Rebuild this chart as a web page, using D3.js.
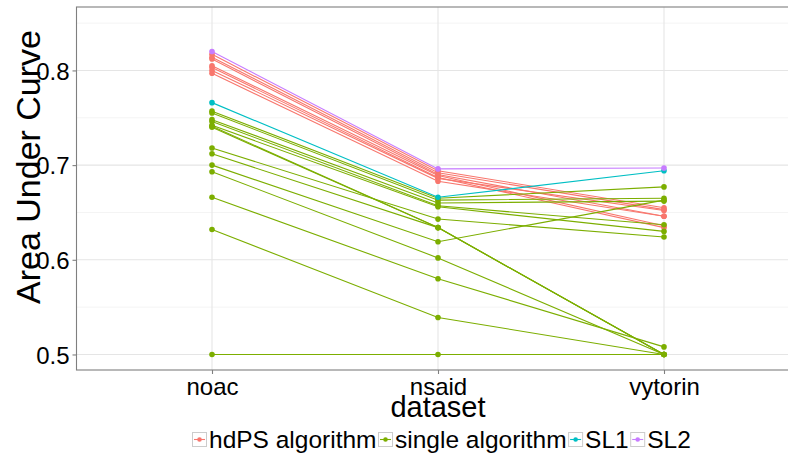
<!DOCTYPE html>
<html><head><meta charset="utf-8">
<script src="https://cdn.jsdelivr.net/npm/d3@7"></script>
<style>body{margin:0;background:#fff;overflow:hidden} svg{display:block}</style>
</head><body>
<svg id="c" width="788" height="459"></svg>
<script>
// ---- data ----
const datasets = ["noac", "nsaid", "vytorin"];
const groupNames = ["hdPS algorithm", "single algorithm", "SL1", "SL2"];
const groupColors = ["#F8766D", "#7CAE00", "#00BFC4", "#C77CFF"];
const yTicks = [0.5, 0.6, 0.7, 0.8];
const yMinorTicks = [0.55, 0.65, 0.75, 0.85];
// AUC per algorithm: [noac, nsaid, vytorin]
const hdpsLines = [
  [0.817, 0.694, 0.655],
  [0.814, 0.692, 0.653],
  [0.812, 0.690, 0.646],
  [0.805, 0.689, 0.636],
  [0.803, 0.687, 0.634],
  [0.800, 0.686, 0.652],
  [0.797, 0.683, 0.646]
];
const singleLines = [
  [0.757, 0.665, 0.677],
  [0.755, 0.663, 0.665],
  [0.748, 0.660, 0.662],
  [0.746, 0.657, 0.637],
  [0.742, 0.656, 0.630],
  [0.740, 0.634, 0.500],
  [0.741, 0.634, 0.500],
  [0.718, 0.643, 0.624],
  [0.712, 0.634, 0.500],
  [0.700, 0.619, 0.663],
  [0.693, 0.602, 0.500],
  [0.666, 0.580, 0.508],
  [0.632, 0.539, 0.500],
  [0.500, 0.500, 0.500]
];
const sl1Line = [0.766, 0.666, 0.694];
const sl2Line = [0.820, 0.696, 0.697];

// ---- build series ----
const series = [];
hdpsLines.forEach(v => series.push({g: 0, v}));
singleLines.forEach(v => series.push({g: 1, v}));
series.push({g: 2, v: sl1Line});
series.push({g: 3, v: sl2Line});

const svg = d3.select("#c");
const font = "'Liberation Sans', Arial, sans-serif";
const P = {l: 76.5, r: 800, t: 7, b: 370};

const x = d3.scalePoint().domain(datasets).range([212, 664]);
const y = d3.scaleLinear().domain([0.4836, 0.867]).range([P.b, P.t]);

svg.append("rect").attr("x", P.l).attr("y", P.t).attr("width", P.r - P.l).attr("height", P.b - P.t).attr("fill", "#fff");

const grid = svg.append("g");
yMinorTicks.forEach(t => grid.append("line").attr("x1", P.l).attr("x2", P.r).attr("y1", y(t)).attr("y2", y(t)).attr("stroke", "#f4f4f4").attr("stroke-width", 1));
yTicks.forEach(t => grid.append("line").attr("x1", P.l).attr("x2", P.r).attr("y1", y(t)).attr("y2", y(t)).attr("stroke", "#e5e5e5").attr("stroke-width", 1.1));
datasets.forEach(d => grid.append("line").attr("x1", x(d)).attr("x2", x(d)).attr("y1", P.t).attr("y2", P.b).attr("stroke", "#e5e5e5").attr("stroke-width", 1.1));

const line = d3.line().x((d, i) => x(datasets[i])).y(d => y(d));
const plot = svg.append("g");
series.forEach(s => plot.append("path").attr("d", line(s.v)).attr("fill", "none")
  .attr("stroke", groupColors[s.g]).attr("stroke-width", 1.1));
series.forEach(s => s.v.forEach((v, i) => plot.append("circle")
  .attr("cx", x(datasets[i])).attr("cy", y(v)).attr("r", 2.8).attr("fill", groupColors[s.g])));

svg.append("rect").attr("x", P.l).attr("y", P.t).attr("width", P.r - P.l).attr("height", P.b - P.t)
  .attr("fill", "none").attr("stroke", "#7f7f7f").attr("stroke-width", 1.1);

// axes
const ya = svg.append("g").attr("transform", `translate(${P.l},0)`)
  .call(d3.axisLeft(y).tickValues(yTicks).tickFormat(d3.format(".1f")).tickSize(4).tickPadding(3));
const xa = svg.append("g").attr("transform", `translate(0,${P.b})`)
  .call(d3.axisBottom(x).tickSize(4).tickPadding(3));
[ya, xa].forEach(a => {
  a.select(".domain").remove();
  a.selectAll("line").attr("stroke", "#7f7f7f").attr("stroke-width", 1.1);
  a.selectAll("text").attr("fill", "#000").style("font-family", font).style("font-size", "24px");
});
ya.selectAll("text").attr("dy", "0.36em");
xa.selectAll("text").attr("dy", "0.75em");

svg.append("text").attr("x", 438).attr("y", 417).attr("text-anchor", "middle")
  .style("font-family", font).style("font-size", "29px").text("dataset");
svg.append("text").attr("transform", "translate(40,167) rotate(-90)").attr("text-anchor", "middle")
  .style("font-family", font).style("font-size", "34px").text("Area Under Curve");

// legend
const lg = svg.append("g");
const keyW = 15, ly = 432;
let lx = 192;
groupNames.forEach((n, i) => {
  const k = lg.append("g").attr("transform", `translate(${lx},${ly})`);
  k.append("rect").attr("x", 0.5).attr("y", 0.5).attr("width", keyW - 1).attr("height", keyW - 1)
    .attr("fill", "#fff").attr("stroke", "#cccccc").attr("stroke-width", 1);
  k.append("line").attr("x1", 2).attr("x2", keyW - 2).attr("y1", keyW / 2).attr("y2", keyW / 2)
    .attr("stroke", groupColors[i]).attr("stroke-width", 1.1);
  k.append("circle").attr("cx", keyW / 2).attr("cy", keyW / 2).attr("r", 2.3).attr("fill", groupColors[i]);
  const t = lg.append("text").attr("x", lx + keyW + 2).attr("y", ly + 15.5)
    .style("font-family", font).style("font-size", "24.5px").text(n);
  lx += keyW + 2 + t.node().getComputedTextLength() + 1.5;
});
</script>
</body></html>
